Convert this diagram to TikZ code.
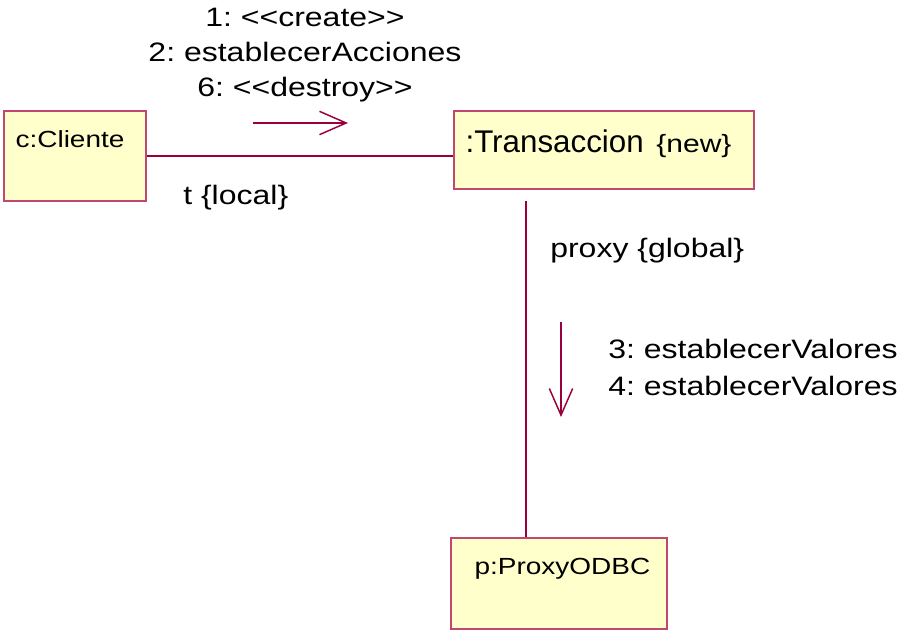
\documentclass[tikz,border=0pt]{standalone}
\usepackage{fontspec}
\setmainfont{Liberation Sans}[FakeStretch=1.2, Ligatures=TeXOff]
\newfontfamily\anchonormal{Liberation Sans}
\frenchspacing
\usetikzlibrary{arrows.meta, positioning}
\definecolor{lineaUML}{RGB}{153,0,61}
\definecolor{bordeUML}{RGB}{192,72,112}
\definecolor{fondoUML}{RGB}{255,255,204}

\begin{document}
\begin{tikzpicture}[x=0.75pt, y=-0.75pt,
    objeto/.style={draw=bordeUML, fill=fondoUML, line width=1.1pt, rectangle, inner sep=0pt},
    texto/.style={inner sep=0pt, font=\fontsize{20}{26.25}\selectfont},
    enlace/.style={draw=lineaUML, line width=1.1pt},
    mensaje/.style={enlace, -{Straight Barb[length=20pt, width=17.5pt, line width=1.1pt]}}]
    \useasboundingbox (0,0) rectangle (899,634);
    % objetos
    \node[objeto, minimum width=106.5pt, minimum height=67.5pt,
      label={[texto, anchor=base west, xshift=9pt, yshift=-27.75pt, font=\fontsize{17.5}{20}\selectfont]north west:{c:Cliente}}] (cliente) at (75,156) {};
    \node[objeto, minimum width=225pt, minimum height=58.5pt,
      label={[texto, anchor=base west, xshift=9pt, yshift=-31.5pt]north west:{{\anchonormal\fontsize{23.5}{26}\selectfont :Transaccion}\hspace{9.5pt}{\fontsize{18.75}{20}\selectfont\{new\}}}}] (transaccion) at (604,150) {};
    \node[objeto, minimum width=162pt, minimum height=68.25pt,
      label={[texto, anchor=base west, xshift=18pt, yshift=-27.75pt, font=\fontsize{17.5}{20}\selectfont]north west:{p:ProxyODBC}}] (proxy) at (559,583.5) {};
    % enlaces
    \draw[enlace] (cliente.east) -- (cliente.east -| transaccion.west);
    \coordinate (proxytop) at (526,201);
    \draw[enlace] (proxytop) -- (proxytop |- proxy.north);
    % roles
    \node[texto, anchor=base west] (rolLocal) at (183,205) {t \{local\}};
    \node[texto, anchor=base west] (rolGlobal) at (550,258) {proxy \{global\}};
    % mensajes
    \coordinate (m1ini) at (253,123);
    \coordinate (m1fin) at (348,123);
    \draw[mensaje] (m1ini) -- (m1fin);
    \node[texto, align=center, anchor=base] (msjTransaccion) at (305,97) {1: <<create>>\\2: establecerAcciones\\6: <<destroy>>};
    \coordinate (m2ini) at (561,322);
    \coordinate (m2fin) at (561,417);
    \draw[mensaje] (m2ini) -- (m2fin);
    \node[texto, align=left, anchor=base west, font=\fontsize{20}{27.75}\selectfont] (msjProxy) at (608,395) {3: establecerValores\\4: establecerValores};
\end{tikzpicture}
\end{document}
